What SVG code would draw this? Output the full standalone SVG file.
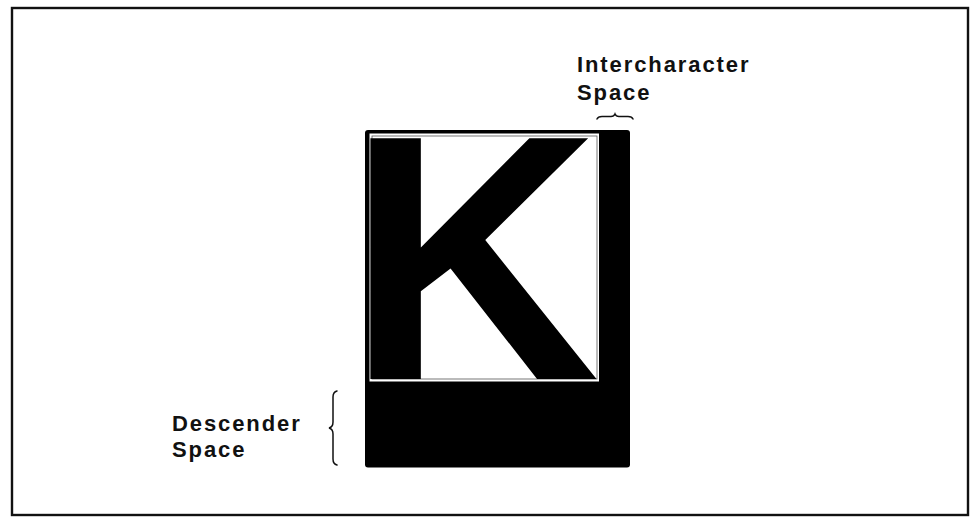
<svg xmlns="http://www.w3.org/2000/svg" width="971" height="517" viewBox="0 0 971 517">
<style>
.lbl{font-family:"Liberation Sans",Arial,sans-serif;font-weight:bold;font-size:22px;letter-spacing:1.9px;fill:#111}
.brace{fill:none;stroke:#111;stroke-width:1.5;stroke-linecap:round}
</style>
<rect width="971" height="517" fill="#fff"/>
<rect id="frame" x="12" y="8" width="956" height="507" fill="none" stroke="#111" stroke-width="2.4"/>
<g id="cell">
<rect x="365" y="130" width="265" height="337.5" rx="3" fill="#000"/>
<rect x="369.5" y="133.5" width="229.5" height="248" fill="#fff"/>
<rect x="372" y="136" width="225" height="243" fill="none" stroke="#555" stroke-width="0.8"/>
<text x="347" y="379" font-family="'Liberation Sans',Arial,sans-serif" font-weight="bold" font-size="350" fill="#000">K</text>
</g>
<g id="intercharacter-label">
<text class="lbl" x="577" y="72">Intercharacter</text>
<text class="lbl" x="577" y="100">Space</text>
</g>
<g id="descender-label">
<text class="lbl" x="172" y="431">Descender</text>
<text class="lbl" x="172" y="457">Space</text>
</g>
<g id="connectors">
<path class="brace" d="M597,119 Q598,116.5 602,116.5 L611,116.5 Q614,116.5 615,114 Q616,116.5 619,116.5 L628,116.5 Q632,116.5 633,119"/>
<path class="brace" d="M337,391 Q333,392 333,397 L333,422 Q333,427 329,428 Q333,429 333,434 L333,459 Q333,464 337,465"/>
</g>
</svg>
